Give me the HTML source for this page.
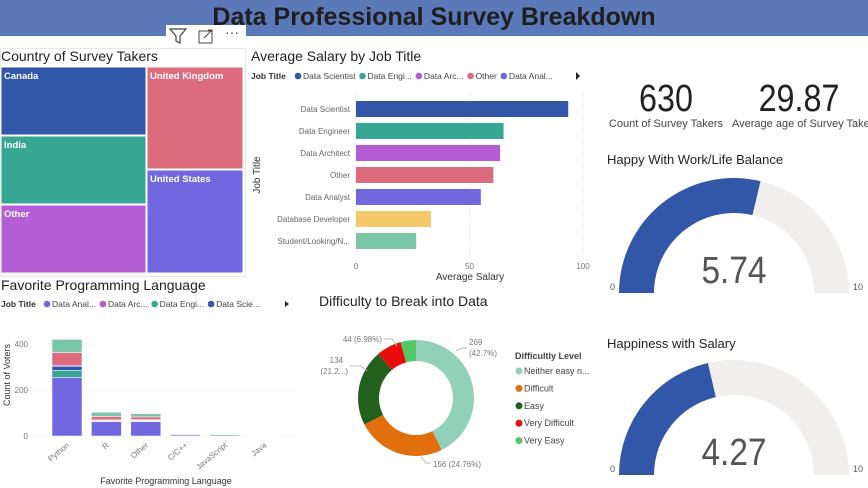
<!DOCTYPE html>
<html><head><meta charset="utf-8"><style>
body{margin:0;width:868px;height:488px;overflow:hidden;background:#fff;font-family:"Liberation Sans",sans-serif;position:relative}
.abs{position:absolute}
.t{position:absolute;font-size:13px;color:#222;white-space:nowrap}
</style></head><body>
<div class="abs" style="left:0;top:0;width:868px;height:36px;background:#5b79b8"></div>
<div class="abs" style="left:0;top:3px;width:868px;text-align:center;font-size:25px;font-weight:bold;color:#1e1e1e">Data Professional Survey Breakdown</div>
<div class="abs" style="left:166px;top:25px;width:80px;height:22px;background:#fff"></div>
<svg class="abs" style="left:166px;top:25px" width="80" height="22">
<path d="M4 4 L20 4 L14 11 L14 18 L10 16 L10 11 Z" fill="none" stroke="#444" stroke-width="1.2"/>
<g><rect x="33" y="6" width="13" height="12" fill="none" stroke="#444"/><path d="M38 13 L46 5 M42 5 L46 5 L46 9" fill="none" stroke="#444"/></g>
<text x="59" y="12" font-size="14" fill="#444">···</text>
</svg>

<!-- Treemap -->
<div class="abs" style="left:0;top:48px;width:244px;height:227px;border:1px solid #e6e6e6"></div>
<div class="t" style="left:1px;top:48px;font-size:14px">Country of Survey Takers</div>
<svg class="abs" style="left:0;top:0" width="250" height="280" id="tm"></svg>

<!-- Bar chart -->
<div class="t" style="left:251px;top:48px;font-size:14px">Average Salary by Job Title</div>
<svg class="abs" style="left:245px;top:62px" width="350" height="225" id="bar"></svg>

<!-- Stacked columns -->
<div class="t" style="left:1px;top:277px;font-size:14px">Favorite Programming Language</div>
<svg class="abs" style="left:0;top:292px" width="310" height="196" id="col"></svg>

<!-- Donut -->
<div class="t" style="left:319px;top:293px;font-size:14px">Difficulty to Break into Data</div>
<svg class="abs" style="left:310px;top:290px" width="290" height="198" id="donut"></svg>

<!-- KPIs -->
<div class="abs" style="left:606px;top:78px;width:120px;text-align:center;font-size:38px;color:#222;transform:scaleX(0.85)">630</div>
<div class="t" style="left:606px;top:118px;width:120px;text-align:center;font-size:11px;color:#444">Count of Survey Takers</div>
<div class="abs" style="left:739px;top:78px;width:120px;text-align:center;font-size:38px;color:#222;transform:scaleX(0.85)">29.87</div>
<div class="t" style="left:732px;top:118px;font-size:11px;color:#444">Average age of Survey Takers</div>

<div class="t" style="left:607px;top:152px;font-size:13px">Happy With Work/Life Balance</div>
<div class="t" style="left:607px;top:336px;font-size:13px">Happiness with Salary</div>
<svg class="abs" style="left:596px;top:150px" width="272" height="338" id="gauges"></svg>

<script>
const NS="http://www.w3.org/2000/svg";
function mk(p,tag,attrs,txt){const e=document.createElementNS(NS,tag);for(const k in attrs)e.setAttribute(k,attrs[k]);if(txt!==undefined)e.textContent=txt;p.appendChild(e);return e;}

// ---- Treemap
const tmCountries=["Canada","India","Other","United Kingdom","United States"];
const tmColors=["#3256a8","#37a794","#b45ed6","#dd6b7e","#7168e0"];
const tmRects=[[1,67,145,68],[1,136,145,68],[1,205,145,68],[147,67,96,102],[147,170,96,103]];
const tm=document.getElementById('tm');
tmCountries.forEach((c,i)=>{const r=tmRects[i];
 const e=mk(tm,'rect',{x:r[0],y:r[1],width:r[2],height:r[3],fill:tmColors[i],stroke:'#fff','stroke-width':1});
 
 
 const t=mk(tm,'text',{x:r[0]+3,y:r[1]+12,'font-size':9.5,fill:'#fff','font-weight':'bold'},c);
 
 
});

// ---- Bar chart
const jobTitles=["Data Scientist","Data Engineer","Data Architect","Other","Data Analyst","Database Developer","Student/Looking/N..."];
const salaries=[93.5,65,63.5,60.5,55,33,26.5];
const barColors=["#3256a8","#37a794","#b45ed6","#dd6b7e","#7168e0","#f5c869","#7bc6a8"];
const salaryTicks=[0,50,100];
const bar=document.getElementById('bar');
const bx=v=>111+v*2.27, by=i=>47+i*22;
mk(bar,'text',{x:6,y:17,'font-size':8.5,'font-weight':'bold',fill:'#333'},'Job Title');
const legJ=["Data Scientist","Data Engi...","Data Arc...","Other","Data Anal..."];
let lx=50;legJ.forEach((l,i)=>{const c=mk(bar,'circle',{cx:lx+3,cy:14,r:3.3,fill:barColors[i]});const tx=mk(bar,'text',{x:lx+8,y:17,'font-size':8.5,fill:'#444'},l);lx+=tx.getComputedTextLength()+12;});
mk(bar,'path',{d:'M331 10 L335 14 L331 18 Z',fill:'#222'});
salaryTicks.forEach(t=>{const g=mk(bar,'line',{x1:bx(t),x2:bx(t),y1:30,y2:196,stroke:'#ddd','stroke-dasharray':'1,2'});
 mk(bar,'text',{x:bx(t),y:207,'font-size':8,fill:'#777','text-anchor':'middle'},t);});
jobTitles.forEach((j,i)=>{const r=mk(bar,'rect',{x:bx(0),y:by(i)-8,width:bx(salaries[i])-bx(0),height:16,fill:barColors[i]});
 
 mk(bar,'text',{x:105,y:by(i)+3,'font-size':8,fill:'#666','text-anchor':'end'},j);});
mk(bar,'text',{x:225,y:218,'font-size':10,fill:'#333','text-anchor':'middle'},'Average Salary');
mk(bar,'text',{x:0,y:0,'font-size':10,fill:'#333','text-anchor':'middle',transform:'translate(15,113) rotate(-90)'},'Job Title');

// ---- Stacked column chart
const languages=["Python","R","Other","C/C++","JavaScript","Java"];
const analyst=[255,62,62,5,0,0];
const engineer=[30,3,3,0,0,0];
const scientist=[18,2,1,0,0,0];
const dbdev=[0,0,3,0,0,0];
const architect=[5,3,2,0,0,0];
const otherJob=[55,15,12,3,0,2];
const student=[57,18,14,0,6,0];
const colTicks=[0,200,400];
const series=[analyst,engineer,scientist,dbdev,architect,otherJob,student];
const sColors=["#7168e0","#37a794","#3256a8","#f5c869","#b45ed6","#dd6b7e","#7bc6a8"];
const col=document.getElementById('col');
const cy=v=>144-v*0.23, cx=i=>67+i*39.4;
mk(col,'text',{x:1,y:15,'font-size':8.5,'font-weight':'bold',fill:'#333'},'Job Title');
const legL=["Data Anal...","Data Arc...","Data Engi...","Data Scie..."];const legLC=["#7168e0","#b45ed6","#37a794","#3256a8"];
lx=44;legL.forEach((l,i)=>{const c=mk(col,'circle',{cx:lx+3,cy:12,r:3.3,fill:legLC[i]});const tx=mk(col,'text',{x:lx+8,y:15,'font-size':8.5,fill:'#444'},l);lx+=tx.getComputedTextLength()+12;});
mk(col,'path',{d:'M285 9 L289 12 L285 15 Z',fill:'#222'});
colTicks.forEach(t=>{mk(col,'line',{x1:34,x2:296,y1:cy(t),y2:cy(t),stroke:'#ddd','stroke-dasharray':'1,3'});
 mk(col,'text',{x:28,y:cy(t)+3,'font-size':8,fill:'#777','text-anchor':'end'},t);});
languages.forEach((L,i)=>{let acc=0;series.forEach((s,k)=>{if(s[i]<=0)return;
 const r=mk(col,'rect',{x:cx(i)-15,y:cy(acc+s[i]),width:30,height:cy(acc)-cy(acc+s[i]),fill:sColors[k],stroke:'#fff','stroke-width':0.5});
 acc+=s[i];});
 mk(col,'text',{x:0,y:0,'font-size':8,fill:'#777','text-anchor':'end',transform:`translate(${cx(i)+3},${cy(0)+10}) rotate(-40)`},L);});
mk(col,'text',{x:166,y:192,'font-size':9,fill:'#333','text-anchor':'middle'},'Favorite Programming Language');
mk(col,'text',{x:0,y:0,'font-size':9,fill:'#333','text-anchor':'middle',transform:'translate(10,83) rotate(-90)'},'Count of Voters');

// ---- Donut
const diffLevels=["Neither easy n...","Difficult","Easy","Very Difficult","Very Easy"];
const diffCounts=[269,156,134,44,27];
const diffLabels=["269","156 (24.76%)","134","44 (6.98%)",""];
const dColors=["#92d1b9","#e1700c","#235f1d","#e80c0c","#52c866"];
const dn=document.getElementById('donut');
const dcx=106,dcy=108,R=58,r0=37;const tot=diffCounts.reduce((a,b)=>a+b,0);
let a0=-Math.PI/2;
diffCounts.forEach((v,i)=>{const a1=a0+v/tot*2*Math.PI;const lg=(a1-a0)>Math.PI?1:0;
 const p=(rr,a)=>[dcx+rr*Math.cos(a),dcy+rr*Math.sin(a)];
 const [x1,y1]=p(R,a0),[x2,y2]=p(R,a1),[x3,y3]=p(r0,a1),[x4,y4]=p(r0,a0);
 const e=mk(dn,'path',{d:`M${x1} ${y1} A${R} ${R} 0 ${lg} 1 ${x2} ${y2} L${x3} ${y3} A${r0} ${r0} 0 ${lg} 0 ${x4} ${y4} Z`,fill:dColors[i]});
 a0=a1;});
mk(dn,'text',{x:159,y:55,'font-size':8,fill:'#777'},diffLabels[0]);
mk(dn,'text',{x:159,y:66,'font-size':8,fill:'#777'},'(42.7%)');
mk(dn,'path',{d:'M146 61 L152 58 L157 58',fill:'none',stroke:'#bbb'});
mk(dn,'text',{x:123,y:177,'font-size':8,fill:'#777'},diffLabels[1]);
mk(dn,'path',{d:'M111 167 L116 173 L121 173',fill:'none',stroke:'#bbb'});
mk(dn,'text',{x:33,y:73,'font-size':8,fill:'#777','text-anchor':'end'},diffLabels[2]);
mk(dn,'text',{x:38,y:84,'font-size':8,fill:'#777','text-anchor':'end'},'(21.2...)');
mk(dn,'path',{d:'M40 76 L51 76 L57 81',fill:'none',stroke:'#bbb'});
mk(dn,'text',{x:72,y:52,'font-size':8,fill:'#777','text-anchor':'end'},diffLabels[3]);
mk(dn,'path',{d:'M74 49 L82 49 L87 56',fill:'none',stroke:'#bbb'});
mk(dn,'text',{x:205,y:69,'font-size':9,'font-weight':'bold',fill:'#444'},'Difficultly Level');
diffLevels.forEach((l,i)=>{const yy=81+i*17.4;const c=mk(dn,'circle',{cx:209,cy:yy,r:3.5,fill:dColors[i]});
 mk(dn,'text',{x:214,y:yy+3,'font-size':9,fill:'#444'},l);});

// ---- Gauges
const gaugeValues=[5.74,4.27];
const gaugeMax=[10,10];
const gg=document.getElementById('gauges');
gaugeValues.forEach((v,i)=>{const gx=138,gy=143+i*182,RO=115,RI=80;
 const arc=(f0,f1,c,name)=>{const a=Math.PI*(1-f0),b=Math.PI*(1-f1);
  const P=(rr,t)=>[gx+rr*Math.cos(t),gy-rr*Math.sin(t)];
  const [x1,y1]=P(RO,a),[x2,y2]=P(RO,b),[x3,y3]=P(RI,b),[x4,y4]=P(RI,a);
  const e=mk(gg,'path',{d:`M${x1} ${y1} A${RO} ${RO} 0 0 1 ${x2} ${y2} L${x3} ${y3} A${RI} ${RI} 0 0 0 ${x4} ${y4} Z`,fill:c});
  };
 arc(0,1,'#f0efee','gauge-track');
 arc(0,v/gaugeMax[i],'#3256a8','gauge-fill');
 mk(gg,'text',{x:gx,y:gy-10,'font-size':38,fill:'#555','text-anchor':'middle',transform:`translate(${gx*0.12},0) scale(0.88,1)`},v.toFixed(2));
 mk(gg,'text',{x:14,y:gy-3,'font-size':9,fill:'#555'},'0');
 mk(gg,'text',{x:257,y:gy-3,'font-size':9,fill:'#555'},String(gaugeMax[i]));
});
</script>
</body></html>
